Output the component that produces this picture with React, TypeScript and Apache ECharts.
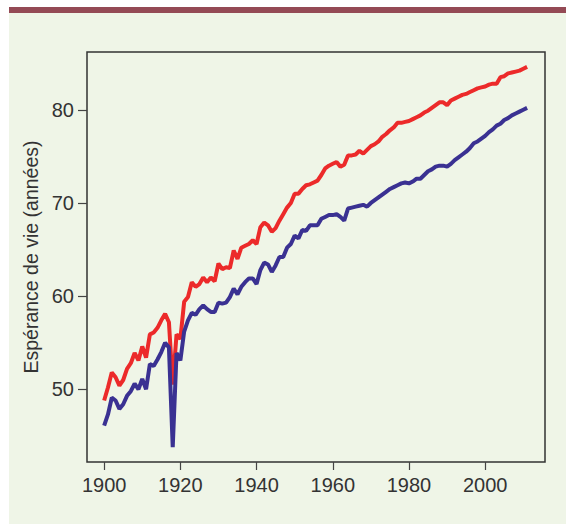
import React, { useEffect, useRef } from "react";
import * as echarts from "echarts";

const years: number[] = [];
for (let y = 1900; y <= 2011; y++) years.push(y);

const women: number[] = [
  48.8, 50.2, 51.8, 51.3, 50.4, 51.0, 52.2, 52.8, 53.9, 53.1,
  54.6, 53.4, 55.9, 56.1, 56.6, 57.4, 58.1, 57.2, 50.5, 55.9,
  55.4, 59.4, 59.9, 61.5, 61.0, 61.3, 62.0, 61.5, 62.0, 61.6,
  63.5, 62.9, 63.1, 63.0, 64.9, 64.0, 65.2, 65.4, 65.6, 66.0,
  65.6, 67.4, 67.9, 67.6, 66.9, 67.3, 68.1, 68.8, 69.5, 70.0,
  71.0, 71.0, 71.5, 71.9, 72.0, 72.2, 72.4, 73.0, 73.7, 74.0,
  74.2, 74.4, 73.9, 74.1, 75.1, 75.1, 75.2, 75.6, 75.3, 75.7,
  76.1, 76.3, 76.6, 77.1, 77.4, 77.8, 78.1, 78.6, 78.6, 78.7,
  78.8, 79.0, 79.2, 79.4, 79.7, 79.9, 80.2, 80.5, 80.8, 80.8,
  80.5, 81.0, 81.2, 81.4, 81.6, 81.7, 81.9, 82.1, 82.3, 82.4,
  82.5, 82.7, 82.8, 82.8, 83.5, 83.6, 83.9, 84.0, 84.1, 84.2,
  84.4, 84.6,
];

const men: number[] = [
  46.1, 47.3, 49.1, 48.8, 47.9, 48.4, 49.3, 49.8, 50.6, 50.0,
  51.1, 50.0, 52.7, 52.5, 53.2, 54.0, 55.0, 54.5, 43.8, 53.9,
  53.1, 56.2, 57.4, 58.2, 58.0, 58.6, 59.0, 58.6, 58.3, 58.3,
  59.3, 59.2, 59.3, 59.9, 60.8, 60.2, 61.0, 61.5, 61.9, 61.9,
  61.3, 62.8, 63.6, 63.4, 62.6, 63.3, 64.2, 64.2, 65.2, 65.6,
  66.5, 66.2, 67.1, 67.0, 67.6, 67.6, 67.6, 68.3, 68.5, 68.7,
  68.7, 68.8, 68.5, 68.1, 69.4, 69.5, 69.6, 69.7, 69.8, 69.6,
  70.0, 70.3, 70.6, 70.9, 71.2, 71.5, 71.7, 71.9, 72.1, 72.2,
  72.1, 72.3, 72.6, 72.6, 73.0, 73.4, 73.6, 73.9, 74.0, 74.0,
  73.9, 74.2, 74.6, 74.9, 75.2, 75.5, 75.9, 76.4, 76.6, 76.9,
  77.2, 77.6, 77.9, 78.3, 78.5, 78.9, 79.1, 79.4, 79.6, 79.8,
  80.0, 80.2,
];

const xTicks: number[] = [1900, 1920, 1940, 1960, 1980, 2000];
const yTicks: number[] = [50, 60, 70, 80];
const yName = "Espérance de vie (années)";

export default function App() {
  const ref = useRef<HTMLDivElement>(null);
  useEffect(() => {
    if (!ref.current) return;
    const chart = echarts.init(ref.current, undefined, { renderer: "svg" });
    const font = "'Liberation Sans Narrow', 'Liberation Sans', sans-serif";
    chart.setOption({
      animation: false,
      backgroundColor: "#eff5e7",
      graphic: [
        {
          type: "rect",
          left: 0,
          top: 0,
          shape: { x: 0, y: 0, width: 557, height: 6 },
          style: { fill: "#944a55" },
        },
      ],
      grid: {
        left: 78,
        top: 45,
        right: 21,
        bottom: 62,
        show: true,
        borderColor: "#333",
        borderWidth: 1.5,
        backgroundColor: "transparent",
      },
      xAxis: {
        type: "value",
        min: 1895.5,
        max: 2015.7,
        axisLine: { show: false },
        splitLine: { show: false },
        axisTick: {
          show: true,
          length: 8,
          customValues: xTicks,
          lineStyle: { color: "#444", width: 1.2 },
        },
        axisLabel: {
          customValues: xTicks,
          margin: 13,
          color: "#333",
          fontFamily: font,
          fontSize: 20,
          formatter: (v: number) => String(v),
        },
      },
      yAxis: {
        type: "value",
        min: 42.2,
        max: 86.2,
        name: yName,
        nameLocation: "middle",
        nameGap: 40,
        nameTextStyle: { color: "#333", fontFamily: font, fontSize: 19.5 },
        axisLine: { show: false },
        splitLine: { show: false },
        axisTick: {
          show: true,
          length: 9,
          customValues: yTicks,
          lineStyle: { color: "#444", width: 1.2 },
        },
        axisLabel: {
          customValues: yTicks,
          margin: 13,
          color: "#333",
          fontFamily: font,
          fontSize: 20,
          formatter: (v: number) => String(v),
        },
      },
      series: [
        {
          name: "Femmes",
          type: "line",
          data: years.map((y, i) => [y, women[i]]),
          showSymbol: false,
          lineStyle: { color: "#ec2a2a", width: 4 },
        },
        {
          name: "Hommes",
          type: "line",
          data: years.map((y, i) => [y, men[i]]),
          showSymbol: false,
          lineStyle: { color: "#3a3192", width: 4 },
        },
      ],
    });
    return () => chart.dispose();
  }, []);
  return (
    <div
      style={{
        position: "fixed",
        left: 0,
        top: 0,
        width: 566,
        height: 524,
        background: "#ffffff",
      }}
    >
      <div
        ref={ref}
        style={{ position: "absolute", left: 9, top: 7, width: 557, height: 517 }}
      />
    </div>
  );
}
